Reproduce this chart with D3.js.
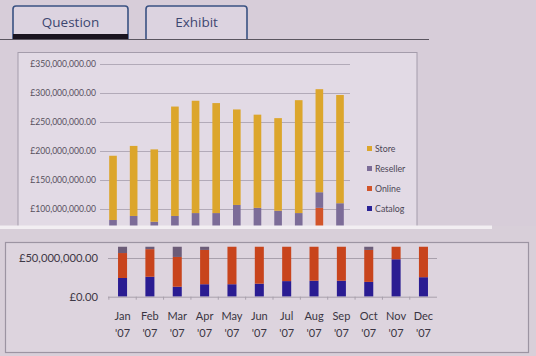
<!DOCTYPE html>
<html><head><meta charset="utf-8">
<script src="https://cdn.jsdelivr.net/npm/d3@7"></script>
<style>
html,body{margin:0;padding:0;background:#d7cdd9;}
svg{display:block;font-family:Lato,"Open Sans",sans-serif;}
</style></head>
<body>
<svg id="c" width="536" height="356"></svg>
<script>
// ---- data (values in £) ----
const months = ["Jan","Feb","Mar","Apr","May","Jun","Jul","Aug","Sep","Oct","Nov","Dec"];
const yearLabel = "'07";
const catalog  = [24.0e6, 25.6e6, 12.8e6, 16.0e6, 16.0e6, 16.7e6, 20.0e6, 20.5e6, 20.5e6, 19.0e6, 48.0e6, 25.0e6];
const online   = [32.0e6, 35.4e6, 38.2e6, 44.0e6, 49.0e6, 49.3e6, 47.0e6, 45.5e6, 47.5e6, 41.0e6, 54.0e6, 43.0e6];
const reseller = [25.0e6, 27.0e6, 27.0e6, 28.0e6, 28.0e6, 27.0e6, 40.0e6, 36.0e6, 29.0e6, 33.0e6, 27.0e6, 42.0e6];
const store    = [111e6, 121e6, 125e6, 189e6, 194e6, 190e6, 165e6, 161e6, 160e6, 195e6, 178e6, 187e6];
const seriesNames = ["Catalog","Online","Reseller","Store"];
const legendOrder = ["Store","Reseller","Online","Catalog"];
const topTicks = [100e6,150e6,200e6,250e6,300e6,350e6];
const bottomTicks = [0, 50e6];
const tabs = ["Question","Exhibit"];

const colors = {Store:"#dca62c", Reseller:"#7c6c98", Online:"#d2542a", Catalog:"#2a2296"};
const colorsBottom = {Store:"#dca62c", Reseller:"#6c5c78", Online:"#c8441c", Catalog:"#2a1c92"};

const rows = months.map((m,i)=>({month:m, Catalog:catalog[i], Online:online[i], Reseller:reseller[i], Store:store[i]}));
const stacked = d3.stack().keys(seriesNames)(rows);
const fmt = v => "£" + d3.format(",.2f")(v);

const svg = d3.select("#c");
svg.append("rect").attr("width",536).attr("height",356).attr("fill","#d7cdd9");

// ---- tabs ----
const tabX = [[13,128],[146,247]];
tabs.forEach((t,i)=>{
  const [x0,x1]=tabX[i];
  svg.append("path")
    .attr("d",`M${x0},39 L${x0},9 Q${x0},6 ${x0+3},6 L${x1-3},6 Q${x1},6 ${x1},9 L${x1},39`)
    .attr("fill","#dcd3e0").attr("stroke","#3a5282").attr("stroke-width",1.6);
  svg.append("text").attr("x",(x0+x1)/2).attr("y",27).attr("text-anchor","middle")
    .attr("font-family","'Open Sans',sans-serif").attr("font-size",13.5).attr("fill","#3c4670").text(t);
});
svg.append("rect").attr("x",13).attr("y",34).attr("width",115).attr("height",5).attr("fill","#1a1420");
svg.append("line").attr("x1",0).attr("x2",429).attr("y1",39.5).attr("y2",39.5).attr("stroke","#5a5560").attr("stroke-width",1);

// ---- top chart panel ----
svg.append("rect").attr("x",18).attr("y",52.5).attr("width",399).attr("height",180)
  .attr("fill","#e2dae5").attr("stroke","#a49cab").attr("stroke-width",1);

const xTop = d3.scaleBand().domain(months).range([103,350]).paddingInner(0.63).paddingOuter(0.3);
const yTop = d3.scaleLinear().domain([0,350e6]).range([266.9,64.3]);

svg.append("defs").append("clipPath").attr("id","clipTop")
  .append("rect").attr("x",0).attr("y",53).attr("width",536).attr("height",173);
const gTop = svg.append("g").attr("clip-path","url(#clipTop)");
gTop.append("g").selectAll("line").data(topTicks).join("line")
  .attr("x1",100).attr("x2",350).attr("y1",d=>Math.round(yTop(d))+0.5).attr("y2",d=>Math.round(yTop(d))+0.5)
  .attr("stroke","#b2aab8").attr("stroke-width",1);
gTop.append("g").selectAll("text").data(topTicks).join("text")
  .attr("x",96).attr("y",d=>yTop(d)+3).attr("text-anchor","end")
  .attr("font-size",8.6).attr("fill","#56505e").text(fmt);
stacked.forEach(s=>{
  gTop.append("g").selectAll("rect").data(s).join("rect")
    .attr("x",(d,i)=>xTop(months[i])).attr("width",xTop.bandwidth())
    .attr("y",d=>yTop(d[1])).attr("height",d=>yTop(d[0])-yTop(d[1]))
    .attr("fill",colors[s.key]);
});
// legend
const lg = svg.append("g");
legendOrder.forEach((k,i)=>{
  const y = 149 + i*20;
  lg.append("rect").attr("x",367).attr("y",y-3).attr("width",5).attr("height",5).attr("fill",colors[k]);
  lg.append("text").attr("x",375).attr("y",y+3).attr("font-size",8.8).attr("fill","#4c4656").text(k);
});

// ---- separator strip ----
svg.append("rect").attr("x",0).attr("y",226).attr("width",536).attr("height",130).attr("fill","#d8cfd9");
svg.append("rect").attr("x",0).attr("y",225.5).attr("width",492).attr("height",3.5).attr("fill","#f2eef2");

// ---- bottom zoomed panel ----
svg.append("rect").attr("x",5.5).attr("y",242.5).attr("width",523).attr("height",110)
  .attr("fill","#ddd4de").attr("stroke","#9c94a2").attr("stroke-width",1.2);

const xBot = d3.scaleBand().domain(months).range([109,437]).paddingInner(0.67).paddingOuter(0.33);
const yBot = d3.scaleLinear().domain([0,64e6]).range([296.7,246.8]);

svg.select("defs").append("clipPath").attr("id","clipBot")
  .append("rect").attr("x",100).attr("y",yBot(64e6)).attr("width",340).attr("height",yBot(0)-yBot(64e6));

const gBot = svg.append("g");
gBot.append("line").attr("x1",108).attr("x2",437)
  .attr("y1",Math.round(yBot(50e6))+0.5).attr("y2",Math.round(yBot(50e6))+0.5)
  .attr("stroke","#a8a0ac").attr("stroke-width",1);
gBot.append("g").selectAll("text").data(bottomTicks).join("text")
  .attr("x",98).attr("y",d=>yBot(d)+4).attr("text-anchor","end")
  .attr("font-size",11.2).attr("fill","#3e3846").text(fmt);
const gBars = gBot.append("g").attr("clip-path","url(#clipBot)");
stacked.forEach(s=>{
  gBars.append("g").selectAll("rect").data(s).join("rect")
    .attr("x",(d,i)=>xBot(months[i])).attr("width",xBot.bandwidth())
    .attr("y",d=>yBot(d[1])).attr("height",d=>yBot(d[0])-yBot(d[1]))
    .attr("fill",colorsBottom[s.key]);
});
// x axis
const xAxis = d3.axisBottom(xBot).tickSize(3).tickFormat("");
const ax = gBot.append("g").attr("transform",`translate(0,${yBot(0)})`).call(xAxis);
ax.select(".domain").attr("stroke","#a8a0ac").attr("d","M108,0.5H437");
ax.selectAll(".tick line").attr("stroke","#a8a0ac").attr("transform",`translate(${-xBot.step()/2},0)`);
ax.selectAll(".tick text").remove();
const lab = gBot.append("g");
months.forEach(m=>{
  const cx = xBot(m)+xBot.bandwidth()/2;
  lab.append("text").attr("x",cx).attr("y",320).attr("text-anchor","middle")
    .attr("font-size",11).attr("fill","#3a3442").text(m);
  lab.append("text").attr("x",cx).attr("y",337).attr("text-anchor","middle")
    .attr("font-size",11).attr("fill","#3a3442").text(yearLabel);
});
</script>
</body></html>
